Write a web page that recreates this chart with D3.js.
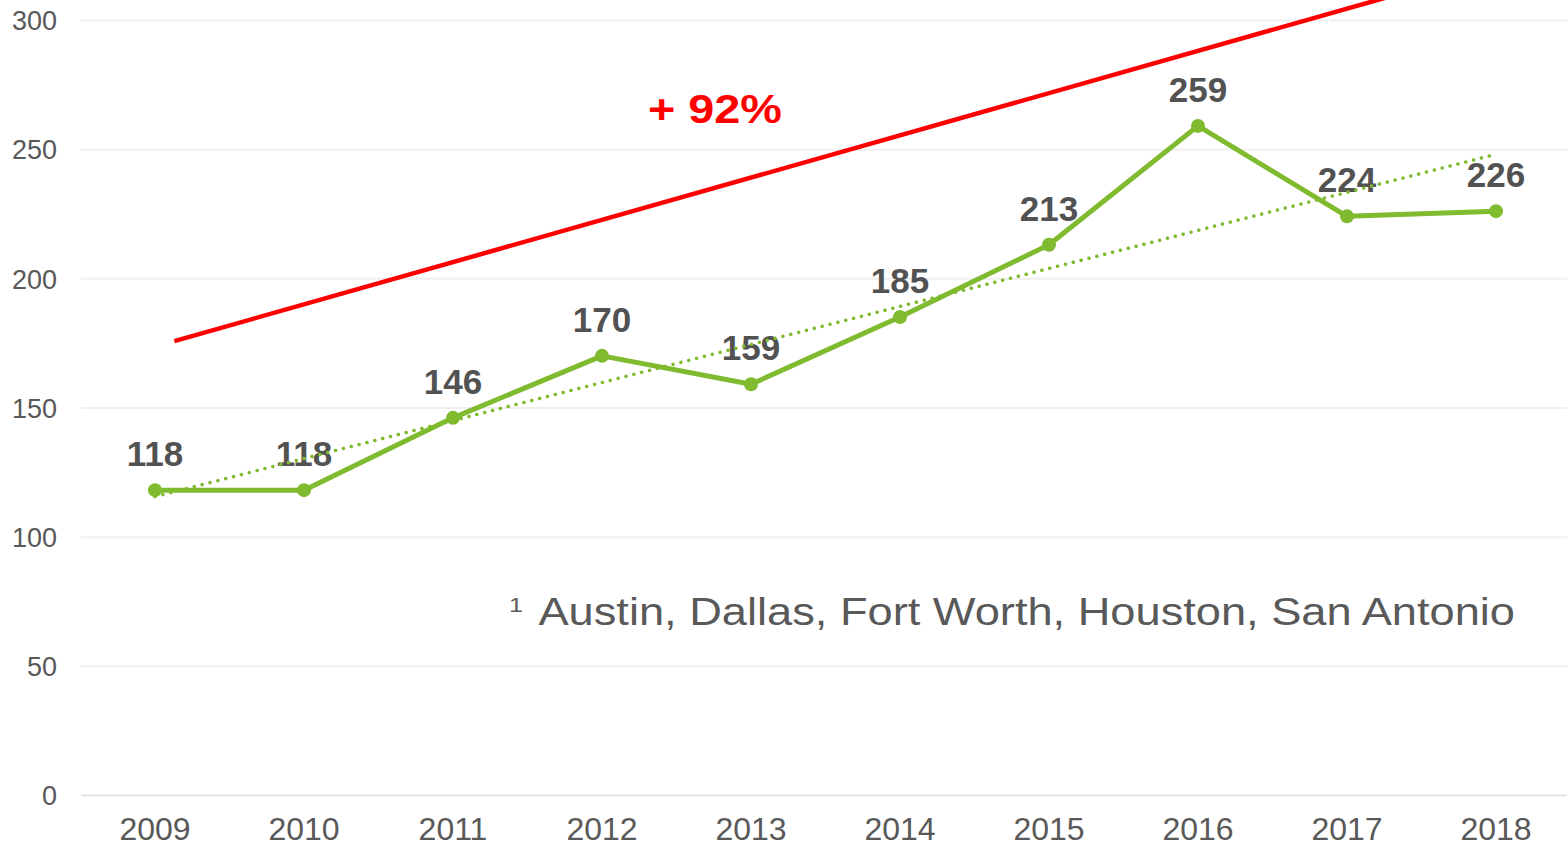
<!DOCTYPE html>
<html>
<head>
<meta charset="utf-8">
<script src="https://cdn.jsdelivr.net/npm/d3@7"></script>
<style>
  html, body { margin: 0; padding: 0; background: #fff; }
  svg { display: block; font-family: "Liberation Sans", Arial, sans-serif; }
</style>
</head>
<body>
<svg id="chart"></svg>
<script>
// data
let years = ["2009","2010","2011","2012","2013","2014","2015","2016","2017","2018"];
let values = [118, 118, 146, 170, 159, 185, 213, 259, 224, 226];
let yTicks = [0, 50, 100, 150, 200, 250, 300];
// dotted linear trend, value at first and last year
let trendEnds = [115.5, 248];
// red growth annotation line: [year index, value]
let growthLine = [[0.13, 175.7], [8.38, 310.6]];
let growthLabel = "+ 92%";
let footnote = "Austin, Dallas, Fort Worth, Houston, San Antonio";

function getConfig(){
    let width = 1567;
    let height = 848;
    let margin = { top: 20, bottom: 53, left: 81, right: 0 };
    let bodyWidth = width - margin.left - margin.right;
    let bodyHeight = height - margin.top - margin.bottom;
    let container = d3.select("#chart")
        .attr("width", width)
        .attr("height", height);
    return { width, height, margin, bodyWidth, bodyHeight, container };
}

function getScales(config){
    let { margin, bodyHeight } = config;
    let xScale = d3.scaleBand()
        .domain(years)
        .range([80.5, 1570.5]);
    let xIdx = d3.scaleLinear()
        .domain([0, years.length - 1])
        .range([xScale(years[0]) + xScale.bandwidth() / 2,
                xScale(years[years.length - 1]) + xScale.bandwidth() / 2]);
    let yScale = d3.scaleLinear()
        .domain([0, 300])
        .range([margin.top + bodyHeight, margin.top]);
    return { xScale, xIdx, yScale };
}

function drawAxes(scales, config){
    let { xScale, yScale } = scales;
    let { container, margin, bodyWidth, bodyHeight } = config;

    let grid = d3.axisLeft(yScale)
        .tickValues(yTicks)
        .tickSize(-bodyWidth)
        .tickFormat(d3.format("d"))
        .tickPadding(24);
    let gy = container.append("g")
        .attr("transform", `translate(${margin.left},0)`)
        .call(grid);
    gy.select(".domain").remove();
    gy.selectAll(".tick line")
        .attr("stroke", (d) => d === 0 ? "#e3e3e3" : "#efefef")
        .attr("stroke-width", 2);
    gy.selectAll(".tick text")
        .attr("fill", "#595959")
        .style("font-size", "27px")
        .attr("dy", "0.36em");

    let axisX = d3.axisBottom(xScale).tickSize(0).tickPadding(22);
    let gx = container.append("g")
        .attr("transform", `translate(0,${margin.top + bodyHeight})`)
        .call(axisX);
    gx.select(".domain").remove();
    gx.selectAll(".tick text")
        .attr("fill", "#595959")
        .style("font-size", "32px");
}

function drawSeries(scales, config){
    let { xIdx, yScale } = scales;
    let { container } = config;
    let green = "#7fba2f";
    let cx = (d, i) => xIdx(i);

    // growth arrow line
    container.append("path")
        .datum(growthLine)
        .attr("d", d3.line().x(d => xIdx(d[0])).y(d => yScale(d[1])))
        .attr("fill", "none")
        .attr("stroke", "#ff0000")
        .attr("stroke-width", 4.5);

    container.append("path")
        .datum(values)
        .attr("d", d3.line().x(cx).y(d => yScale(d)))
        .attr("fill", "none")
        .attr("stroke", green)
        .attr("stroke-width", 5)
        .attr("stroke-linejoin", "round");

    container.append("g")
        .selectAll("circle")
        .data(values)
        .enter().append("circle")
        .attr("cx", cx)
        .attr("cy", d => yScale(d))
        .attr("r", 7)
        .attr("fill", green);

    container.append("g")
        .selectAll("text")
        .data(values)
        .enter().append("text")
        .attr("x", cx)
        .attr("y", d => yScale(d) - 24)
        .attr("text-anchor", "middle")
        .style("font-size", "35px")
        .style("font-weight", "bold")
        .attr("fill", "#525252")
        .text(d => d);

    // dotted trend on top
    container.append("path")
        .datum([[0, trendEnds[0]], [years.length - 1, trendEnds[1]]])
        .attr("d", d3.line().x(d => xIdx(d[0])).y(d => yScale(d[1])))
        .attr("fill", "none")
        .attr("stroke", green)
        .attr("stroke-width", 3.5)
        .attr("stroke-linecap", "round")
        .attr("stroke-dasharray", "0.1,8");

    // stretched a bit wider, like the source
    container.append("text")
        .attr("transform", "translate(648,123) scale(1.17,1)")
        .attr("fill", "#ff0000")
        .style("font-size", "40px")
        .style("font-weight", "bold")
        .text(growthLabel);

    let note = container.append("g")
        .attr("transform", "translate(1515,625) scale(1.19,1)");
    note.append("text")
        .attr("text-anchor", "end")
        .attr("fill", "#595959")
        .style("font-size", "38px")
        .text(footnote);
    note.append("text")
        .attr("x", -(1515 - 509) / 1.19)
        .attr("y", -13)
        .attr("fill", "#595959")
        .style("font-size", "21px")
        .text("1");
}

let config = getConfig();
let scales = getScales(config);
drawAxes(scales, config);
drawSeries(scales, config);
</script>
</body>
</html>
